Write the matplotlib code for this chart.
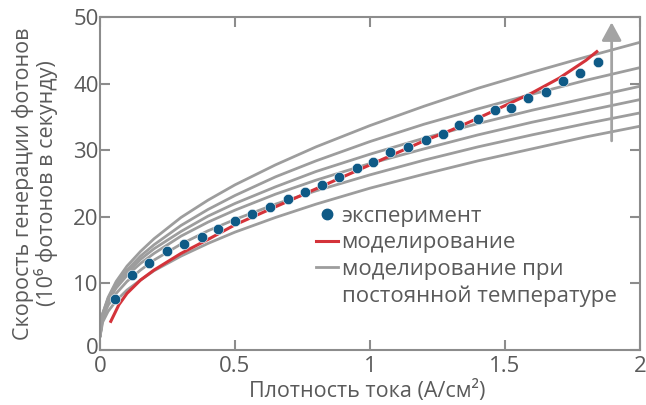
import numpy as np
import matplotlib
matplotlib.use("Agg")
import matplotlib.pyplot as plt
import matplotlib.transforms as mtransforms
from matplotlib.lines import Line2D

plt.rcParams['font.family'] = ['Open Sans', 'DejaVu Sans']

# ---- data ----
# experiment points
exp_x = [0.056, 0.117, 0.183, 0.247, 0.312, 0.377, 0.438, 0.500, 0.564, 0.630,
         0.697, 0.759, 0.821, 0.886, 0.951, 1.010, 1.074, 1.142, 1.207, 1.271,
         1.331, 1.399, 1.463, 1.522, 1.586, 1.652, 1.716, 1.778, 1.843]
exp_y = [7.7, 11.3, 13.0, 14.9, 15.9, 16.9, 18.2, 19.4, 20.4, 21.5,
         22.7, 23.7, 24.7, 26.0, 27.3, 28.2, 29.7, 30.5, 31.6, 32.5,
         33.8, 34.7, 36.1, 36.4, 37.9, 38.8, 40.4, 41.6, 43.2]

# modelling (red)
mod_x = [0.04, 0.07, 0.10, 0.15, 0.20, 0.30, 0.40, 0.50, 0.60, 0.70, 0.80, 0.90,
         1.00, 1.10, 1.20, 1.30, 1.40, 1.50, 1.60, 1.70, 1.80, 1.84]
mod_y = [4.3, 6.8, 8.5, 10.5, 12.0, 14.5, 16.6, 18.8, 20.6, 22.4, 24.2, 26.0,
         27.8, 29.6, 31.4, 33.0, 34.8, 36.7, 38.6, 40.8, 43.5, 44.8]

# modelling at constant temperature (grey)
tc_x = [0, 0.01, 0.03, 0.06, 0.1, 0.15, 0.2, 0.3, 0.4, 0.5, 0.65, 0.8,
        1.0, 1.2, 1.4, 1.6, 1.8, 2.0]
tc_1 = [2, 5.5, 7.9, 10.3, 12.6, 14.8, 16.7, 19.9, 22.5, 24.8, 27.8, 30.5,
        33.7, 36.6, 39.3, 41.7, 44.0, 46.2]
tc_2 = [2, 5.4, 7.7, 9.9, 12.0, 14.1, 15.8, 18.7, 21.1, 23.2, 26.0, 28.4,
        31.3, 33.9, 36.2, 38.4, 40.5, 42.4]
tc_3 = [2, 5.4, 7.6, 9.6, 11.6, 13.6, 15.2, 17.8, 20.1, 22.0, 24.5, 26.8,
        29.4, 31.8, 34.0, 36.0, 37.8, 39.6]
tc_4 = [2, 5.2, 7.3, 9.3, 11.2, 13.0, 14.5, 17.1, 19.2, 21.0, 23.4, 25.5,
        28.0, 30.2, 32.3, 34.2, 35.9, 37.6]
tc_5 = [2, 4.8, 6.7, 8.5, 10.3, 12.0, 13.5, 15.9, 17.9, 19.6, 21.9, 23.9,
        26.3, 28.5, 30.5, 32.3, 34.0, 35.6]
tc_6 = [2, 4.2, 5.8, 7.4, 9.0, 10.5, 11.9, 14.1, 16.0, 17.7, 19.9, 21.9,
        24.3, 26.4, 28.4, 30.2, 32.0, 33.6]
tc_curves = [tc_1, tc_2, tc_3, tc_4, tc_5, tc_6]

x_ticks = [0, 0.5, 1, 1.5, 2]
x_ticklabels = ['0', '0.5', '1', '1.5', '2']
y_ticks = [0, 10, 20, 30, 40, 50]

# ---- colours ----
c_text = '#5a5a5a'
c_axis = '#8c8c8c'
c_grey = '#9d9d9d'
c_red = '#d4333a'
c_dot = '#0f5a86'

fig = plt.figure(figsize=(6.46, 4.05), dpi=100)
ax = fig.add_axes([100 / 646, 55 / 405, 540 / 646, 333 / 405])

for yy in tc_curves:
    ax.plot(tc_x, yy, color=c_grey, lw=2.0, zorder=2, solid_capstyle='round')
ax.plot(mod_x, mod_y, color=c_red, lw=2.2, zorder=3)
ax.plot(exp_x, exp_y, 'o', color=c_dot, ms=7.5, mec='white', mew=0.4, zorder=4)

# arrow (temperature direction)
ax.annotate('', xy=(1.895, 49.2), xytext=(1.895, 31.4),
            arrowprops=dict(arrowstyle='-|>,head_length=0.55,head_width=0.3',
                            color='#a3a3a3', lw=2.0, mutation_scale=20,
                            shrinkA=0, shrinkB=0), zorder=3)

ax.set_xlim(0, 2)
ax.set_ylim(0, 50)
ax.set_xticks(x_ticks)
ax.set_xticklabels(x_ticklabels)
ax.set_yticks(y_ticks)

for s in ax.spines.values():
    s.set_color(c_axis)
    s.set_linewidth(1.5)
ax.tick_params(direction='in', length=7, width=1.5, color=c_axis,
               top=True, right=True, labelsize=16, labelcolor=c_text)
ax.tick_params(axis='x', pad=4)
ax.tick_params(axis='y', pad=1)

# the two corner zeros sit close together, nudge the y one up a little
ylab0 = ax.get_yticklabels()[0]
ylab0.set_transform(ylab0.get_transform() +
                    mtransforms.ScaledTranslation(0, 3 / 72, fig.dpi_scale_trans))

ax.set_xlabel('Плотность тока (А/см²)', fontsize=15.5, color=c_text)
ax.xaxis.set_label_coords(0.494, -0.09)
ax.xaxis.label.set_va('top')
ax.set_ylabel('Скорость генерации фотонов\n(10⁶ фотонов в секунду)',
              fontsize=15.5, color=c_text, linespacing=1.0)
ax.yaxis.set_label_coords(-0.078, 0.5)

handles = [
    Line2D([], [], marker='o', ls='none', color=c_dot, ms=7.5),
    Line2D([], [], color=c_red, lw=2.2),
    Line2D([], [], color=c_grey, lw=2.0),
    Line2D([], [], color='none'),
]
labels = ['эксперимент', 'моделирование', 'моделирование при',
          'постоянной температуре']
leg = ax.legend(handles, labels, loc='upper left', bbox_to_anchor=(0.400, 0.433),
                frameon=False, fontsize=16, handlelength=1.0, handletextpad=0.15,
                labelspacing=0.25, borderpad=0, borderaxespad=0)
for t in leg.get_texts():
    t.set_color(c_text)

fig.savefig('out.png', dpi=100)
